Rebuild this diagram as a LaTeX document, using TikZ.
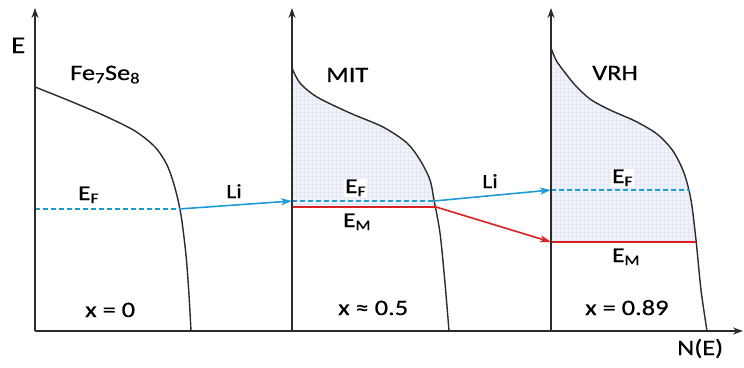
\documentclass[tikz,border=0pt]{standalone}
\usepackage{fontspec}
\setmainfont{Carlito}[FakeStretch=1.2,FakeBold=0.6]
\usetikzlibrary{arrows.meta}
\definecolor{axc}{HTML}{2B2B2B}
\definecolor{fb}{HTML}{1E9BD7}
\definecolor{fr}{HTML}{DD1F1F}
\definecolor{shadec}{HTML}{F0F4FA}
\definecolor{gridc}{HTML}{E2E9F4}
\begin{document}
\begin{tikzpicture}[x=1pt,y=-1pt,
  axis/.style={draw=axc,line width=1.8pt,-{Stealth[length=10pt,width=7pt]}},
  dos/.style={draw=axc,line width=1.4pt},
  ef/.style={draw=fb,line width=1.5pt,dash pattern=on 5pt off 3pt},
  em/.style={draw=fr,line width=1.6pt},
  liarrow/.style={draw=fb,line width=1.6pt,-{Stealth[length=11pt,width=7pt,inset=3pt]}},
  emarrow/.style={draw=fr,line width=1.6pt,-{Stealth[length=11pt,width=7pt,inset=3pt]}},
  lbl/.style={font=\fontsize{22}{26}\selectfont,inner sep=0pt,anchor=base west},
  sublbl/.style={font=\fontsize{21}{25}\selectfont,inner sep=1pt,anchor=base west}]
\useasboundingbox (0,0) rectangle (744,367);

% shading panel 2
\begin{scope}
  \clip (292,0) rectangle (600,207);
  \clip plot[smooth] coordinates {(292,68) (300,83) (317,97) (350,113) (383,127) (407,143) (420,160) (430,180) (434,200) (440,233) (445,283) (449,331)} -- (292,331) -- cycle;
  \fill[shadec] (280,40) rectangle (470,220);
  \draw[gridc,line width=0.4pt,step=4pt] (280,40) grid (470,220);
\end{scope}
% shading panel 3
\begin{scope}
  \clip (551,0) rectangle (740,242);
  \clip plot[smooth] coordinates {(551,48) (556,60) (563,70) (575,85) (590,99) (610,110) (635,121) (657,134) (673,151) (684,173) (691,200) (696,240) (701,290) (707,331)} -- (551,331) -- cycle;
  \fill[shadec] (540,30) rectangle (720,250);
  \draw[gridc,line width=0.4pt,step=4pt] (540,30) grid (720,250);
\end{scope}

% coordinates
\coordinate (o1) at (35,331);
\coordinate (t1) at (35,8);
\coordinate (o2) at (292,331);
\coordinate (t2) at (292,8);
\coordinate (o3) at (551,331);
\coordinate (t3) at (551,8);
\coordinate (xend) at (743,331);
\coordinate (ef1a) at (35,209);
\coordinate (ef1b) at (179,209);
\coordinate (ef2a) at (292,201);
\coordinate (ef2b) at (434,201);
\coordinate (em2a) at (292,207);
\coordinate (em2b) at (436,207);
\coordinate (ef3a) at (551,190);
\coordinate (ef3b) at (690,190);
\coordinate (em3a) at (551,242);
\coordinate (em3b) at (696,242);

% DOS curves
\draw[dos] plot[smooth] coordinates {(35,87) (70,101) (105,116) (135,131) (155,147) (167,165) (175,188) (181,215) (186,255) (189,295) (191,331)};
\draw[dos] plot[smooth] coordinates {(292,68) (300,83) (317,97) (350,113) (383,127) (407,143) (420,160) (430,180) (434,200) (440,233) (445,283) (449,331)};
\draw[dos] plot[smooth] coordinates {(551,48) (556,60) (563,70) (575,85) (590,99) (610,110) (635,121) (657,134) (673,151) (684,173) (691,200) (696,240) (701,290) (707,331)};

% levels
\draw[ef] (ef1a) -- (ef1b);
\draw[ef] (ef2a) -- (ef2b);
\draw[em] (em2a) -- (em2b);
\draw[ef] (ef3a) -- (ef3b);
\draw[em] (em3a) -- (em3b);

% arrows
\draw[liarrow] (ef1b) -- (ef2a);
\draw[liarrow] (ef2b) -- (ef3a);
\draw[emarrow] (em2b) -- (em3a);

% axes
\draw[axis] (o1) -- (t1);
\draw[axis] (o2) -- (t2);
\draw[axis] (o3) -- (t3);
\draw[axis] (o1) -- (xend);

% labels
\node[font=\fontsize{24}{28}\selectfont,inner sep=0pt,anchor=base west] (lE) at (11,53) {E};
\node[lbl] (lfe) at (70,80) {Fe\textsubscript{7}Se\textsubscript{8}};
\node[sublbl] (lef1) at (77,200) {E\textsubscript{F}};
\node[lbl,font=\fontsize{20}{24}\selectfont] (lli1) at (226,198) {Li};
\node[lbl] (lx1) at (85,317) {x = 0};
\node[lbl] (lmit) at (326,82) {MIT};
\node[sublbl,fill=white] (lef2) at (344,193) {E\textsubscript{F}};
\node[sublbl] (lem2) at (342,227) {E\textsubscript{M}};
\node[lbl] (lx2) at (338,315) {x ≈ 0.5};
\node[lbl,font=\fontsize{20}{24}\selectfont] (lli2) at (482,188) {Li};
\node[lbl] (lvrh) at (592,80) {VRH};
\node[sublbl,fill=white] (lef3) at (611,183) {E\textsubscript{F}};
\node[sublbl] (lem3) at (611,262) {E\textsubscript{M}};
\node[lbl] (lx3) at (585,315) {x = 0.89};
\node[lbl] (lne) at (677,355) {N(E)};
\end{tikzpicture}
\end{document}
